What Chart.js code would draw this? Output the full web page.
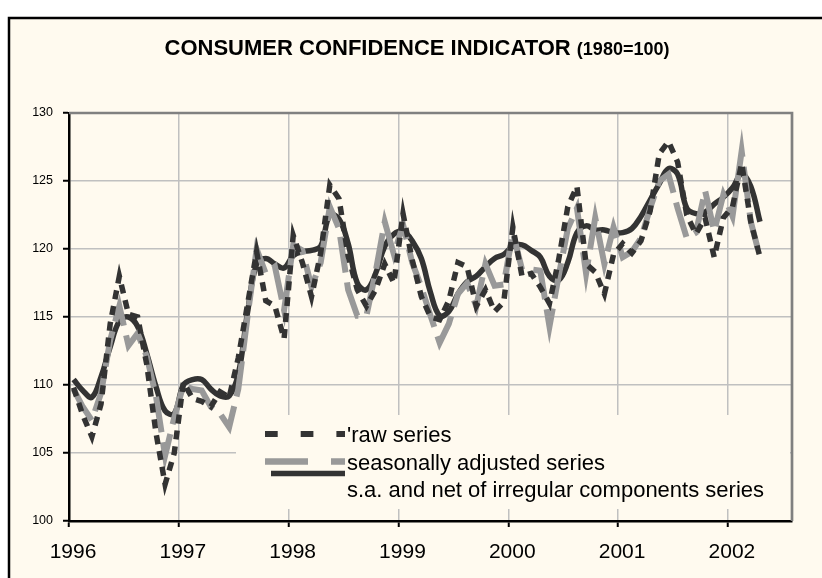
<!DOCTYPE html>
<html><head><meta charset="utf-8">
<script src="https://cdn.jsdelivr.net/npm/chart.js@4/dist/chart.umd.min.js"></script>
<style>html,body{margin:0;padding:0;background:#fff}#wrap{width:822px;height:578px;position:relative}canvas{display:block}</style>
</head><body><div id="wrap"><canvas id="c" width="822" height="578"></canvas></div>
<script>
// Monthly categories Jan 1996 .. Apr 2002 (axis spans 79 months, to Jul 2002)
const startYear = 1996;
const axisMonths = 79;
const tickLabels = ['1996','1997','1998','1999','2000','2001','2002'];

const rawSeries = [
 109.8,107.8,106.2,108.6,114.5,118.0,115.2,115.0,111.5,106.5,102.7,105.0,
 110.2,109.0,108.8,108.4,109.5,109.1,112.0,115.9,119.8,116.2,115.8,113.4,
 121.0,119.0,116.5,119.7,124.7,123.7,119.5,117.0,115.8,117.0,118.9,117.5,
 122.6,119.2,116.5,115.0,114.8,116.2,119.0,118.7,115.8,117.0,115.4,116.1,
 121.6,118.0,118.2,117.2,116.0,119.2,123.1,124.6,118.9,118.3,116.7,119.6,
 120.4,119.7,120.6,122.8,127.0,127.9,126.4,122.5,121.1,122.3,119.4,122.3,
 123.1,126.3,122.0,119.4
];
const saSeries = [
 109.7,108.4,107.4,109.4,113.3,115.8,112.9,113.8,112.1,109.2,104.8,107.6,
 110.0,109.7,109.6,108.4,107.9,106.9,109.7,115.0,120.0,118.2,118.7,115.5,
 120.3,119.9,117.2,119.0,123.1,121.5,117.0,115.1,115.1,118.3,122.0,119.6,
 121.8,119.0,117.2,115.1,113.1,114.5,116.7,117.5,115.8,118.9,117.3,117.4,
 121.2,118.5,118.5,118.4,114.3,118.0,121.5,123.0,118.2,122.3,118.9,121.6,
 119.4,119.8,120.8,123.0,125.0,125.5,123.0,120.8,121.2,124.3,121.3,124.0,
 122.4,127.2,122.0,119.4
];
const trendSeries = [
 110.4,109.6,109.1,110.6,112.8,114.7,115.0,114.3,112.3,109.9,108.1,107.9,
 110.0,110.4,110.4,109.7,109.2,109.2,110.8,115.3,118.9,119.3,118.9,118.6,
 119.5,119.8,119.9,120.2,122.5,122.2,120.4,117.5,117.0,118.2,120.2,121.1,
 121.3,120.6,119.3,116.8,115.1,115.4,116.7,117.6,118.0,118.7,119.3,119.6,
 120.2,120.3,119.9,119.4,118.0,117.7,119.0,121.2,121.7,121.4,121.4,121.2,
 121.2,121.5,122.4,123.6,124.8,125.9,125.5,123.0,122.6,122.7,123.3,123.8,
 124.5,125.5,124.6,122.0
];
const seriesNames = ["'raw series", 'seasonally adjusted series', 's.a. and net of irregular components series'];
const categories = rawSeries.map((_, i) => (startYear + Math.floor(i / 12)) + '-' + String(i % 12 + 1).padStart(2, '0'));

const toPts = arr => arr.map((v, i) => ({x: i + 0.5, y: v}));

const CREAM = '#FFFAEF';
const LEG = {x0: 236, y0: 415, x1: 790, y1: 509};

const framePlugin = {
  id: 'frame',
  beforeDraw(chart) {
    const c = chart.ctx;
    c.save();
    c.fillStyle = '#ffffff';
    c.fillRect(0, 0, chart.width, chart.height);
    c.fillStyle = CREAM;
    c.fillRect(9, 18, chart.width, chart.height);
    c.strokeStyle = '#000';
    c.lineWidth = 2.5;
    c.strokeRect(9, 18, chart.width + 10, chart.height + 10);
    c.restore();
  },
  beforeDatasetsDraw(chart) {
    const c = chart.ctx;
    c.save();
    c.fillStyle = CREAM;
    c.fillRect(LEG.x0, LEG.y0, LEG.x1 - LEG.x0, LEG.y1 - LEG.y0);
    c.restore();
  },
  afterDraw(chart) {
    const c = chart.ctx;
    const a = chart.chartArea;
    c.save();
    // plot area top/right border
    c.strokeStyle = '#808080';
    c.lineWidth = 2.7;
    c.beginPath();
    c.moveTo(a.left, a.top);
    c.lineTo(a.right, a.top);
    c.lineTo(a.right, a.bottom);
    c.stroke();
    // title
    c.fillStyle = '#000';
    c.textBaseline = 'alphabetic';
    c.font = 'bold 22px "Liberation Sans", Arial, sans-serif';
    const t1 = 'CONSUMER CONFIDENCE INDICATOR ';
    const w1 = c.measureText(t1).width;
    c.font = 'bold 18px "Liberation Sans", Arial, sans-serif';
    const t2 = '(1980=100)';
    const w2 = c.measureText(t2).width;
    const tx = 417 - (w1 + w2) / 2;
    c.font = 'bold 22px "Liberation Sans", Arial, sans-serif';
    c.fillText(t1, tx, 55);
    c.font = 'bold 18px "Liberation Sans", Arial, sans-serif';
    c.fillText(t2, tx + w1, 55);
    // legend samples
    c.lineCap = 'butt';
    c.strokeStyle = '#333333';
    c.lineWidth = 6;
    c.setLineDash([12.7, 23]);
    c.beginPath(); c.moveTo(265, 434); c.lineTo(345, 434); c.stroke();
    c.strokeStyle = '#999999';
    c.lineWidth = 6.5;
    c.setLineDash([43, 23]);
    c.beginPath(); c.moveTo(265, 461.5); c.lineTo(345, 461.5); c.stroke();
    c.setLineDash([]);
    c.strokeStyle = '#333333';
    c.lineWidth = 5.5;
    c.beginPath(); c.moveTo(271, 473.5); c.lineTo(345, 473.5); c.stroke();
    // legend text
    c.fillStyle = '#000';
    c.font = '22px "Liberation Sans", Arial, sans-serif';
    c.textBaseline = 'middle';
    c.fillText(seriesNames[0], 347, 436);
    c.fillText(seriesNames[1], 347, 463.5);
    c.fillText(seriesNames[2], 347, 491);
    c.restore();
  }
};

new Chart(document.getElementById('c'), {
  type: 'line',
  data: {
    labels: categories,
    datasets: [
      {label: seriesNames[0], data: toPts(rawSeries), borderColor: '#333333', borderWidth: 5.5,
       borderDash: [9, 7], borderCapStyle: 'butt', pointRadius: 0, tension: 0},
      {label: seriesNames[1], data: toPts(saSeries), borderColor: '#999999', borderWidth: 6,
       borderDash: [36, 10], borderCapStyle: 'butt', pointRadius: 0, tension: 0},
      {label: seriesNames[2], data: toPts(trendSeries), borderColor: '#333333', borderWidth: 5.5,
       pointRadius: 0, tension: 0.4}
    ]
  },
  options: {
    responsive: false, animation: false, devicePixelRatio: 1,
    layout: {padding: {left: 0, top: 113, right: 30, bottom: 0}},
    plugins: {legend: {display: false}, title: {display: false}, tooltip: {enabled: false}},
    scales: {
      x: {
        type: 'linear', min: 0, max: axisMonths,
        afterBuildTicks: s => { s.ticks = tickLabels.map((_, k) => ({value: k * 12})); },
        afterFit: s => { s.height = 57; },
        ticks: {callback: v => tickLabels[Math.round(v / 12)], font: {family: '"Liberation Sans", Arial, sans-serif', size: 21},
                color: '#000', padding: 13, labelOffset: 4, maxRotation: 0, autoSkip: false},
        grid: {color: '#C0C0C0', lineWidth: 1.5, tickLength: 6, tickColor: '#000', tickWidth: 2},
        border: {color: '#000', width: 2.5}
      },
      y: {
        min: 100, max: 130,
        afterFit: s => { s.width = 69; },
        ticks: {stepSize: 5, font: {family: '"Liberation Sans Narrow", "Liberation Sans", Arial, sans-serif', size: 12.5},
                color: '#000', padding: 10},
        grid: {color: '#C0C0C0', lineWidth: 1.5, tickLength: 6, tickColor: '#000', tickWidth: 2},
        border: {color: '#000', width: 2.5}
      }
    }
  },
  plugins: [framePlugin]
});
</script></body></html>
